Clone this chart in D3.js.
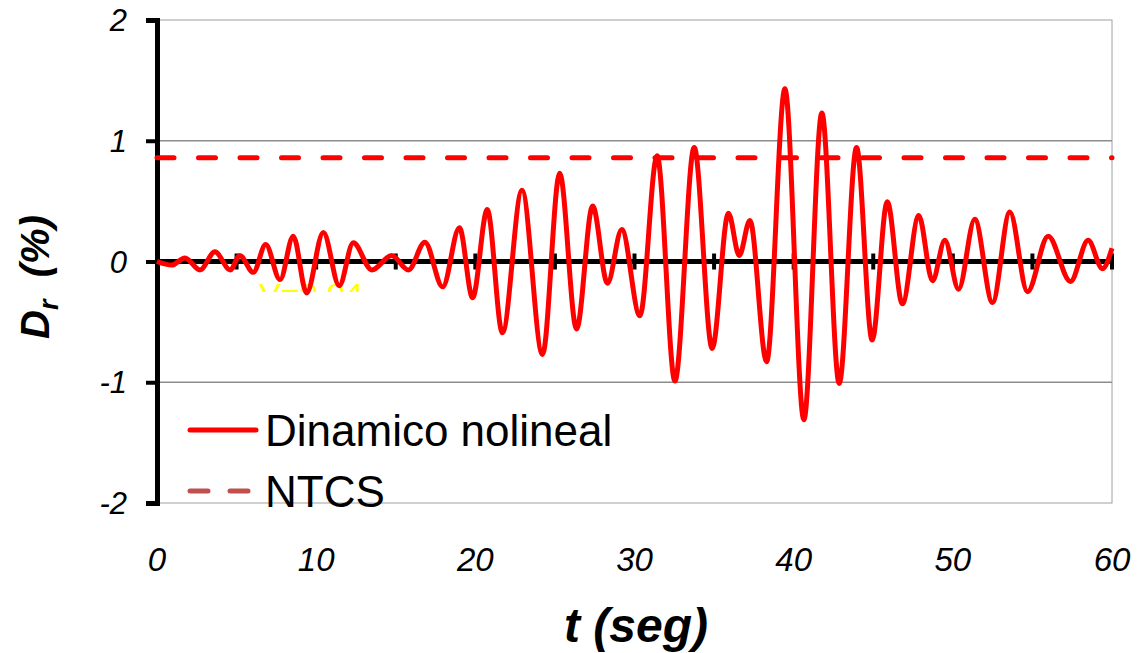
<!DOCTYPE html>
<html>
<head>
<meta charset="utf-8">
<script src="https://cdn.jsdelivr.net/npm/d3@7"></script>
<style>
  body { margin: 0; background: #fff; }
  svg { display: block; font-family: Arial, "Liberation Sans", sans-serif; }
</style>
</head>
<body>
<div id="chart"></div>
<script>
// extrema of the drift response (t in s, Dr in %)
var tSeg = [0, 0.92, 1.76, 2.7, 3.64, 4.6, 5.2, 6.05, 6.83, 7.73, 8.56, 9.4, 10.45, 11.45, 12.33,
  13.5, 14.74, 15.8, 16.83, 17.95, 19.0, 19.83, 20.75, 21.7, 22.93, 24.22, 25.3, 26.36, 27.37,
  28.3, 29.2, 30.34, 31.42, 32.54, 33.75, 34.88, 35.9, 36.58, 37.25, 38.3, 39.45, 40.64, 41.77,
  42.86, 43.95, 44.93, 45.88, 46.83, 47.86, 48.72, 49.5, 50.36, 51.38, 52.49, 53.58, 54.69,
  55.99, 57.39, 58.5, 59.4, 60.0];
var drDinamico = [0, -0.03, 0.03, -0.07, 0.08, -0.07, 0.05, -0.09, 0.14, -0.15, 0.21, -0.26, 0.24, -0.20, 0.155,
  -0.07, 0.05, -0.07, 0.16, -0.21, 0.28, -0.30, 0.43, -0.59, 0.59, -0.77, 0.73, -0.56, 0.46,
  -0.18, 0.265, -0.45, 0.875, -0.99, 0.945, -0.72, 0.40, 0.05, 0.34, -0.83, 1.43, -1.31, 1.23,
  -1.01, 0.945, -0.65, 0.495, -0.35, 0.38, -0.16, 0.175, -0.23, 0.35, -0.34, 0.41, -0.25,
  0.21, -0.165, 0.175, -0.06, 0.11];
var drNTCS = 0.86;
var xTicks = [0, 10, 20, 30, 40, 50, 60];
var xMinorTicks = [5, 10, 15, 20, 25, 30, 35, 40, 45, 50, 55, 60];
var yTicks = [-2, -1, 0, 1, 2];
var yGrid = [-1, 1];
var legendNames = ["Dinamico nolineal", "NTCS"];

var W = 1142, H = 653;
var x0 = 157, x1 = 1112, yTop = 20, yBot = 503;

var svg = d3.select("#chart").append("svg")
    .attr("width", W)
    .attr("height", H);

var x = d3.scaleLinear().domain([0, 60]).range([x0, x1]);
var y = d3.scaleLinear().domain([-2, 2]).range([yBot, yTop]);

// plot area frame
svg.append("rect")
    .attr("x", x0).attr("y", yTop)
    .attr("width", x1 - x0).attr("height", yBot - yTop)
    .attr("fill", "none")
    .attr("stroke", "#a0a0a0")
    .attr("stroke-width", 1);

// gridlines
svg.selectAll(".grid").data(yGrid).enter().append("line")
    .attr("x1", x0).attr("x2", x1)
    .attr("y1", function (d) { return y(d); })
    .attr("y2", function (d) { return y(d); })
    .attr("stroke", "#8c8c8c")
    .attr("stroke-width", 1.3);

// half hidden yellow note
var clip = svg.append("clipPath").attr("id", "noteclip");
clip.append("rect").attr("x", 240).attr("y", 270).attr("width", 150).attr("height", 22);
svg.append("text")
    .attr("clip-path", "url(#noteclip)")
    .attr("x", 259).attr("y", 302)
    .attr("font-size", 26)
    .attr("fill", "#ffff00")
    .attr("textLength", 104)
    .attr("lengthAdjust", "spacingAndGlyphs")
    .text("V=0.04");

// y axis
var yAxis = svg.append("g")
    .attr("transform", "translate(" + x0 + ",0)")
    .call(d3.axisLeft(y).tickValues(yTicks).tickSize(11).tickFormat(""));
yAxis.select(".domain").attr("stroke", "#000").attr("stroke-width", 5);
yAxis.selectAll(".tick line").attr("stroke", "#000").attr("stroke-width", 4);

svg.selectAll(".ylab").data(yTicks).enter().append("text")
    .attr("x", 127)
    .attr("y", function (d) { return y(d) + 11; })
    .attr("text-anchor", "end")
    .attr("font-size", 31)
    .attr("font-style", "italic")
    .text(function (d) { return d; });

// zero line with cross ticks
svg.append("line")
    .attr("x1", x0).attr("x2", x1)
    .attr("y1", y(0)).attr("y2", y(0))
    .attr("stroke", "#000")
    .attr("stroke-width", 5);
svg.selectAll(".xt").data(xMinorTicks).enter().append("line")
    .attr("x1", function (d) { return x(d); })
    .attr("x2", function (d) { return x(d); })
    .attr("y1", y(0) - 8).attr("y2", y(0) + 8)
    .attr("stroke", "#000")
    .attr("stroke-width", 4);

// x tick labels
svg.selectAll(".xlab").data(xTicks).enter().append("text")
    .attr("x", function (d) { return x(d); })
    .attr("y", 571)
    .attr("text-anchor", "middle")
    .attr("font-size", 33)
    .attr("font-style", "italic")
    .text(function (d) { return d; });

// axis titles
svg.append("text")
    .attr("x", 636).attr("y", 642)
    .attr("text-anchor", "middle")
    .attr("font-size", 48)
    .attr("font-weight", "bold")
    .attr("font-style", "italic")
    .text("t (seg)");

var yt = svg.append("text")
    .attr("transform", "translate(49,277) rotate(-90)")
    .attr("text-anchor", "middle")
    .attr("font-size", 40)
    .attr("font-weight", "bold")
    .attr("font-style", "italic");
yt.append("tspan").text("D");
yt.append("tspan").attr("font-size", 27).attr("dy", 9).text("r");
yt.append("tspan").attr("dy", -9).text("\u00a0 (%)");

// NTCS limit
svg.append("line")
    .attr("x1", x(0)).attr("x2", x(60))
    .attr("y1", y(drNTCS)).attr("y2", y(drNTCS))
    .attr("stroke", "#ff0000")
    .attr("stroke-width", 5)
    .attr("stroke-linecap", "round")
    .attr("stroke-dasharray", "17,24.5");

// legend
svg.append("line")
    .attr("x1", 190).attr("x2", 256)
    .attr("y1", 430).attr("y2", 430)
    .attr("stroke", "#ff0000")
    .attr("stroke-width", 5)
    .attr("stroke-linecap", "round");
svg.append("line")
    .attr("x1", 190).attr("x2", 256)
    .attr("y1", 491).attr("y2", 491)
    .attr("stroke", "#c0504d")
    .attr("stroke-width", 5)
    .attr("stroke-linecap", "round")
    .attr("stroke-dasharray", "18,22");
svg.selectAll(".leg").data(legendNames).enter().append("text")
    .attr("x", 265)
    .attr("y", function (d, i) { return 446 + i * 61; })
    .attr("font-size", 44)
    .text(function (d) { return d; });

// response curve
var pts = tSeg.map(function (t, i) { return [t, drDinamico[i]]; });
svg.append("path")
    .datum(pts)
    .attr("fill", "none")
    .attr("stroke", "#ff0000")
    .attr("stroke-width", 5)
    .attr("stroke-linejoin", "round")
    .attr("d", d3.line()
        .curve(d3.curveMonotoneX)
        .x(function (d) { return x(d[0]); })
        .y(function (d) { return y(d[1]); }));
</script>
</body>
</html>
